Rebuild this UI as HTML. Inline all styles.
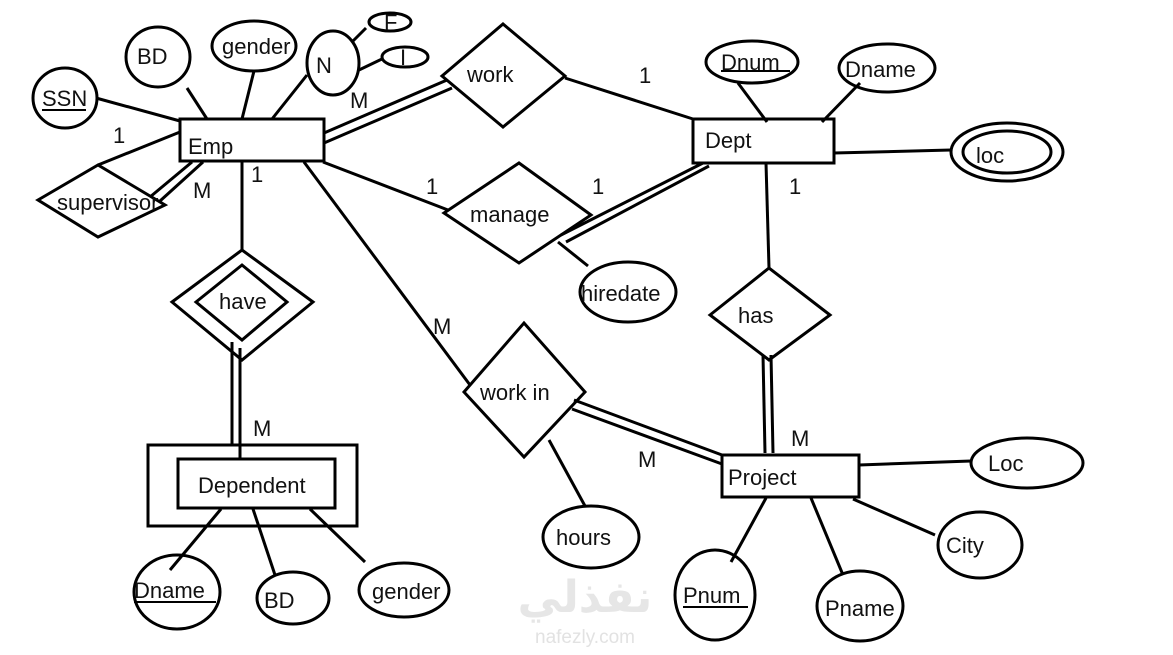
<!DOCTYPE html>
<html><head><meta charset="utf-8"><style>
html,body{margin:0;padding:0;background:#fff;}
svg text{font-family:"Liberation Sans",sans-serif;font-size:22px;fill:#111;}
</style></head><body>
<svg width="1173" height="650" viewBox="0 0 1173 650" xmlns="http://www.w3.org/2000/svg">
<g stroke="#000" stroke-width="3" fill="none">
<rect x="180" y="119" width="144" height="42"/>
<ellipse cx="65" cy="98" rx="32" ry="30"/>
<ellipse cx="158" cy="57" rx="32" ry="30"/>
<ellipse cx="254" cy="46" rx="42" ry="25"/>
<ellipse cx="333" cy="63" rx="26" ry="32"/>
<ellipse cx="390" cy="22" rx="21" ry="9"/>
<ellipse cx="405" cy="57" rx="23" ry="10"/>
<line x1="96" y1="98" x2="180" y2="121"/>
<line x1="187" y1="88" x2="207" y2="119"/>
<line x1="254" y1="71" x2="242" y2="119"/>
<line x1="307" y1="75" x2="272" y2="119"/>
<line x1="352" y1="42" x2="366" y2="28"/>
<line x1="359" y1="70" x2="382" y2="59"/>
<polygon points="38,200 98,165 165,205 98,237"/>
<line x1="180" y1="132" x2="98" y2="165"/>
<line x1="192" y1="162" x2="150" y2="197"/>
<line x1="203" y1="162" x2="160" y2="201"/>
<polygon points="442,76 503,24 565,76 503,127"/>
<line x1="324" y1="133" x2="447" y2="80"/>
<line x1="324" y1="143" x2="452" y2="88"/>
<line x1="565" y1="78" x2="693" y2="119"/>
<polygon points="444,213 519,163 591,215 519,263"/>
<line x1="323" y1="162" x2="448" y2="210"/>
<line x1="561" y1="235" x2="703" y2="163"/>
<line x1="566" y1="242" x2="709" y2="166"/>
<ellipse cx="628" cy="292" rx="48" ry="30"/>
<line x1="558" y1="242" x2="588" y2="266"/>
<rect x="693" y="119" width="141" height="44"/>
<ellipse cx="752" cy="62" rx="46" ry="21"/>
<ellipse cx="887" cy="68" rx="48" ry="24"/>
<ellipse cx="1007" cy="152" rx="56" ry="29"/>
<ellipse cx="1007" cy="152" rx="44" ry="21"/>
<line x1="738" y1="83" x2="767" y2="122"/>
<line x1="860" y1="83" x2="822" y2="122"/>
<line x1="834" y1="153" x2="951" y2="150"/>
<polygon points="710,315 769,268 830,315 769,360"/>
<line x1="766" y1="163" x2="769" y2="268"/>
<line x1="763" y1="355" x2="765" y2="453"/>
<line x1="771" y1="355" x2="773" y2="453"/>
<polygon points="172,302 242,250 313,302 242,360"/>
<polygon points="196,302 242,265 287,302 242,340"/>
<line x1="242" y1="162" x2="242" y2="250"/>
<line x1="232" y1="342" x2="232" y2="445"/>
<line x1="240" y1="348" x2="240" y2="459"/>
<rect x="148" y="445" width="209" height="81"/>
<rect x="178" y="459" width="157" height="49"/>
<ellipse cx="177" cy="592" rx="43" ry="37"/>
<ellipse cx="293" cy="598" rx="36" ry="26"/>
<ellipse cx="404" cy="590" rx="45" ry="27"/>
<line x1="221" y1="509" x2="170" y2="570"/>
<line x1="253" y1="509" x2="275" y2="575"/>
<line x1="310" y1="509" x2="365" y2="562"/>
<polygon points="464,392 524,323 585,392 524,457"/>
<line x1="304" y1="162" x2="470" y2="385"/>
<line x1="549" y1="440" x2="585" y2="506"/>
<ellipse cx="591" cy="537" rx="48" ry="31"/>
<line x1="574" y1="400" x2="722" y2="455"/>
<line x1="572" y1="409" x2="722" y2="464"/>
<rect x="722" y="455" width="137" height="42"/>
<ellipse cx="1027" cy="463" rx="56" ry="25"/>
<ellipse cx="980" cy="545" rx="42" ry="33"/>
<ellipse cx="715" cy="595" rx="40" ry="45"/>
<ellipse cx="860" cy="606" rx="43" ry="35"/>
<line x1="859" y1="465" x2="971" y2="461"/>
<line x1="853" y1="499" x2="935" y2="535"/>
<line x1="766" y1="498" x2="731" y2="562"/>
<line x1="811" y1="498" x2="843" y2="575"/>
</g>
<text x="42" y="106">SSN</text><line x1="42" y1="110" x2="86" y2="110" stroke="#000" stroke-width="2"/>
<text x="137" y="64">BD</text>
<text x="222" y="54">gender</text>
<text x="316" y="73">N</text>
<text x="384" y="30" font-size="16">F</text>
<text x="400" y="65" font-size="16">I</text>
<text x="188" y="154">Emp</text>
<text x="113" y="143">1</text>
<text x="57" y="210">supervisor</text>
<text x="193" y="198">M</text>
<text x="467" y="82">work</text>
<text x="350" y="108">M</text>
<text x="639" y="83">1</text>
<text x="470" y="222">manage</text>
<text x="426" y="194">1</text>
<text x="592" y="194">1</text>
<text x="581" y="301">hiredate</text>
<text x="705" y="148">Dept</text>
<text x="721" y="70">Dnum</text><line x1="721" y1="71" x2="790" y2="71" stroke="#000" stroke-width="2"/>
<text x="845" y="77">Dname</text>
<text x="976" y="163">loc</text>
<text x="789" y="194">1</text>
<text x="738" y="323">has</text>
<text x="791" y="446">M</text>
<text x="251" y="182">1</text>
<text x="219" y="309">have</text>
<text x="253" y="436">M</text>
<text x="198" y="493">Dependent</text>
<text x="134" y="598">Dname</text><line x1="134" y1="602" x2="216" y2="602" stroke="#000" stroke-width="2"/>
<text x="264" y="608">BD</text>
<text x="372" y="599">gender</text>
<text x="433" y="334">M</text>
<text x="480" y="400">work in</text>
<text x="638" y="467">M</text>
<text x="556" y="545">hours</text>
<text x="728" y="485">Project</text>
<text x="988" y="471">Loc</text>
<text x="946" y="553">City</text>
<text x="683" y="603">Pnum</text><line x1="683" y1="607" x2="748" y2="607" stroke="#000" stroke-width="2"/>
<text x="825" y="616">Pname</text>
<text x="585" y="612" style="font-size:44px;font-weight:bold;fill:#e6e6e6;font-family:'DejaVu Sans',sans-serif" text-anchor="middle">نفذلي</text>
<text x="585" y="643" style="font-size:19px;fill:#e2e2e2" text-anchor="middle">nafezly.com</text>
</svg>
</body></html>
